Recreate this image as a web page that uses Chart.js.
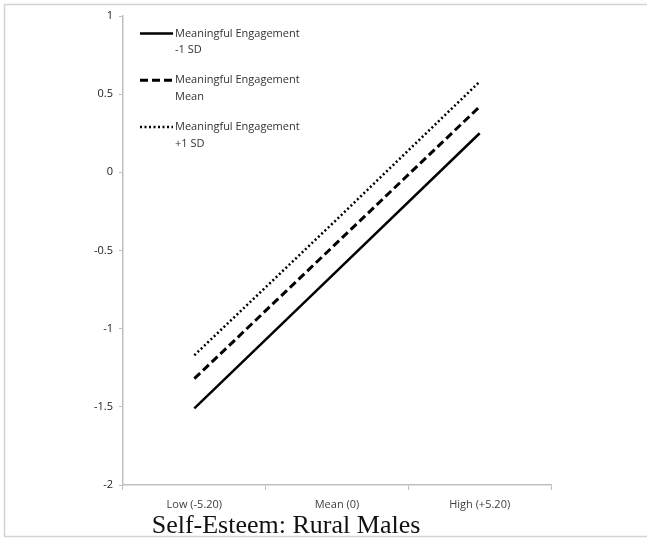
<!DOCTYPE html>
<html>
<head>
<meta charset="utf-8">
<script src="https://cdn.jsdelivr.net/npm/chart.js@4.4.1/dist/chart.umd.min.js"></script>
<style>
	html, body { margin: 0; padding: 0; background: #fff; }
	#wrap { width: 647px; height: 538px; position: relative; }
</style>
</head>
<body>
<div id="wrap"><canvas id="chart-slopes" width="647" height="538"></canvas></div>
<script>
	// categories on the x axis
	var categories = ['Low (-5.20)', 'Mean (0)', 'High (+5.20)'];

	// series values
	var lowSD  = [-1.51, -0.63, 0.25];
	var meanSD = [-1.32, -0.45, 0.42];
	var highSD = [-1.17, -0.30, 0.58];

	var seriesNames = [
		['Meaningful Engagement', '-1 SD'],
		['Meaningful Engagement', 'Mean'],
		['Meaningful Engagement', '+1 SD']
	];

	var yTicks = [1, 0.5, 0, -0.5, -1, -1.5, -2];
	var chartTitle = 'Self-Esteem: Rural Males';

	var tickFont = { family: "'Open Sans', 'Liberation Sans', sans-serif", size: 11 };

	// frame round the chart
	var framePlugin = {
		id: 'frame',
		beforeDraw: function(chart) {
			var c = chart.ctx;
			c.save();
			c.fillStyle = '#fff';
			c.fillRect(0, 0, chart.width, chart.height);
			c.strokeStyle = '#d4d4d4';
			c.lineWidth = 1.5;
			c.strokeRect(4.5, 4.5, chart.width + 10, chart.height - 6);
			c.restore();
		}
	};

	// legend drawn by hand, two text lines each
	var legendPlugin = {
		id: 'twoLineLegend',
		afterDraw: function(chart) {
			var c = chart.ctx;
			c.save();
			c.font = "11px 'Open Sans', 'Liberation Sans', sans-serif";
			c.fillStyle = '#333';
			c.textBaseline = 'middle';
			chart.data.datasets.forEach(function(ds, i) {
				var y = 33.5 + i * 46.8;
				c.strokeStyle = '#000';
				c.lineWidth = ds.borderWidth;
				c.setLineDash(ds.borderDash || []);
				c.beginPath();
				c.moveTo(140, y);
				c.lineTo(173, y);
				c.stroke();
				c.setLineDash([]);
				seriesNames[i].forEach(function(t, j) {
					c.fillText(t, 175, y + j * 16.5);
				});
			});
			c.restore();
		}
	};

	// title sits over the tick labels
	var titlePlugin = {
		id: 'lowTitle',
		afterDraw: function(chart) {
			var c = chart.ctx;
			c.save();
			c.font = "26px 'Liberation Serif', 'DejaVu Serif', serif";
			c.fillStyle = '#111';
			c.textAlign = 'center';
			c.textBaseline = 'alphabetic';
			c.fillText(chartTitle, 286, 533);
			c.restore();
		}
	};

	var config = {
		type: 'line',
		data: {
			labels: categories,
			datasets: [{
				label: seriesNames[0].join(' '),
				data: lowSD,
				borderColor: '#000',
				borderWidth: 2.5,
				pointRadius: 0
			}, {
				label: seriesNames[1].join(' '),
				data: meanSD,
				borderColor: '#000',
				borderWidth: 3,
				borderDash: [8, 4],
				pointRadius: 0
			}, {
				label: seriesNames[2].join(' '),
				data: highSD,
				borderColor: '#000',
				borderWidth: 2.5,
				borderDash: [2, 2.5],
				pointRadius: 0
			}]
		},
		options: {
			responsive: false,
			animation: false,
			layout: { padding: { left: 0, right: 96, top: 16, bottom: 0 } },
			plugins: {
				legend: { display: false },
				title: { display: false },
				tooltip: { enabled: false }
			},
			scales: {
				x: {
					offset: true,
					grid: {
						drawOnChartArea: false,
						drawTicks: true,
						tickLength: 5,
						color: '#bfbfbf',
						offset: true
					},
					border: { color: '#bfbfbf', width: 1.5 },
					ticks: { font: tickFont, color: '#404040', padding: 8, maxRotation: 0 },
					afterFit: function(s) { s.height = 53; }
				},
				y: {
					min: -2,
					max: 1,
					afterBuildTicks: function(s) {
						s.ticks = yTicks.map(function(v) { return { value: v }; });
					},
					grid: {
						drawOnChartArea: false,
						drawTicks: true,
						tickLength: 4,
						color: '#bfbfbf'
					},
					border: { color: '#bfbfbf', width: 1.5 },
					ticks: {
						font: tickFont,
						color: '#222',
						padding: 6,
						callback: function(v) { return String(v); }
					},
					afterFit: function(s) { s.width = 123; }
				}
			}
		},
		plugins: [framePlugin, legendPlugin, titlePlugin]
	};

	var ctx = document.getElementById('chart-slopes').getContext('2d');
	window.chartSlopes = new Chart(ctx, config);
</script>
</body>
</html>
